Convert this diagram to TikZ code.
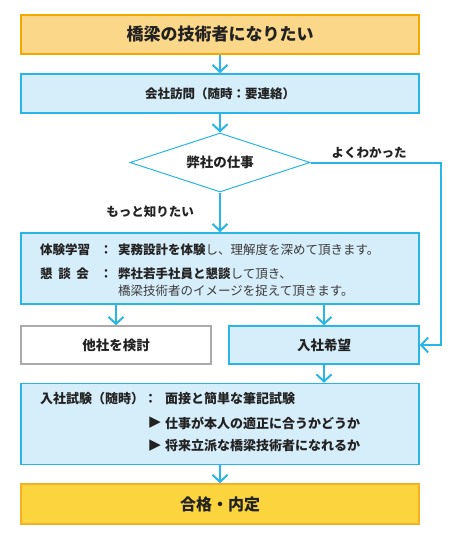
\documentclass[tikz,border=0pt]{standalone}
\usepackage{fontspec}
\setmainfont{Noto Sans CJK JP}
\newfontfamily\symfont{DejaVu Sans}
\usetikzlibrary{shapes.geometric,arrows.meta}
\definecolor{ink}{HTML}{222222}
\definecolor{softink}{HTML}{3A3A3A}
\definecolor{lineblue}{HTML}{2AB5E8}
\definecolor{boxblue}{HTML}{D6EDFA}
\definecolor{paleorange}{HTML}{FBD78A}
\definecolor{orangeline}{HTML}{F2A900}
\definecolor{gold}{HTML}{FCD43E}
\definecolor{goldline}{HTML}{F3B126}
\definecolor{grayline}{HTML}{AAAAAA}
\tikzset{
  box/.style={draw=lineblue, fill=boxblue, line width=1.5pt, minimum width=398pt, minimum height=39pt, inner sep=0pt, text=ink},
  halfbox/.style={box, minimum width=190pt, minimum height=38pt, font=\fontsize{13.5}{16}\selectfont\bfseries},
  flow/.style={draw=lineblue, line width=2pt, ->, >={Straight Barb[length=7pt,width=15pt]}},
  txt/.style={inner sep=0pt, text=ink, font=\fontsize{12.5}{15}\selectfont},
  boldtxt/.style={txt, font=\fontsize{12.5}{15}\selectfont\bfseries},
  examtxt/.style={txt, font=\fontsize{13}{16}\selectfont\bfseries},
  pointer/.style={txt, font=\fontsize{15}{16}\symfont},
}

\begin{document}
\begin{tikzpicture}[x=1pt, y=-1pt]
				\useasboundingbox (0,0) rectangle (460,560);
				\node[box, fill=paleorange, draw=orangeline, font=\fontsize{17}{20}\selectfont\bfseries] (goal)at(220, 34.5) {橋梁の技術者になりたい};
				\node[box, font=\fontsize{12.5}{16}\selectfont\bfseries] (visit)at(220, 93.5) {会社訪問（随時：要連絡）};
				\node[draw=lineblue, line width=1pt, fill=white, diamond, aspect=3, minimum width=180pt, minimum height=59pt, inner sep=0pt, text=ink, font=\fontsize{13.5}{16}\selectfont\bfseries] (work)at(220, 162.5) {弊社の仕事};
				\node[box, minimum height=71pt] (trial)at(220, 268.5) {};
				\node[halfbox, fill=white, draw=grayline] (other)at(116, 345) {他社を検討};
				\node[halfbox] (hope)at(324, 345) {入社希望};
				\node[box, minimum height=81pt] (exam)at(220, 424) {};
				\node[box, fill=gold, draw=goldline, minimum height=40pt, font=\fontsize{16}{19}\selectfont\bfseries] (pass)at(220, 504) {合格・内定};
				\coordinate (turn)at(441, 162.5);
				% texts in the boxes
				\node[boldtxt, anchor=west] (exp)at(40, 250) {体験学習};
				\node[boldtxt] (expc)at(106, 250) {：};
				\node[txt, anchor=west, text=softink] (expt)at(118, 250) {\textcolor{ink}{\textbf{実務設計を体験}}し、理解度を深めて頂きます。};
				\node[boldtxt, anchor=west] (talk)at(40, 274) {懇\hspace{0.45em}談\hspace{0.45em}会};
				\node[boldtxt] (talkc)at(106, 274) {：};
				\node[txt, anchor=west, text=softink] (talkt)at(118, 274) {\textcolor{ink}{\textbf{弊社若手社員と懇談}}して頂き、};
				\node[txt, anchor=west, text=softink] (talku)at(118, 291) {橋梁技術者のイメージを捉えて頂きます。};
				\node[examtxt, anchor=west] (test)at(40, 399) {入社試験（随時）：};
				\node[examtxt, anchor=west] (testt)at(165, 399) {面接と簡単な筆記試験};
				\node[pointer, anchor=east] (pa)at(161, 423) {▶};
				\node[examtxt, anchor=west] (pat)at(165, 423) {仕事が本人の適正に合うかどうか};
				\node[pointer, anchor=east] (pb)at(161, 446) {▶};
				\node[examtxt, anchor=west] (pbt)at(165, 446) {将来立派な橋梁技術者になれるか};
				\node[boldtxt] (yes)at(369, 153) {よくわかった};
				\node[boldtxt] (more)at(150, 212) {もっと知りたい};
				% connectors
				\draw[flow] (goal) -- (visit);
				\draw[flow] (visit) -- (work);
				\draw[flow] (work) -- (trial);
				\draw[flow] (work.east) -- (turn) |- (hope.east);
				\draw[flow] (trial.south -| other.north) -- (other);
				\draw[flow] (trial.south -| hope.north) -- (hope);
				\draw[flow] (hope) -- (hope.south |- exam.north);
				\draw[flow] (exam) -- (pass);
			\end{tikzpicture}
\end{document}
